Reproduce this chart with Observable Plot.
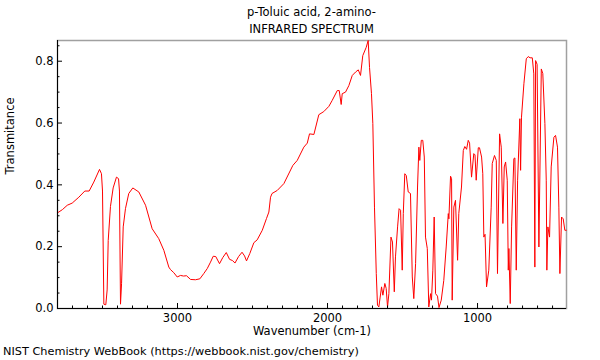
<!DOCTYPE html>
<html><head><meta charset="utf-8">
<script src="https://cdn.jsdelivr.net/npm/d3@7"></script>
<script src="https://cdn.jsdelivr.net/npm/@observablehq/plot@0.6"></script>
<style>
body{margin:0;background:#fff;font-family:"DejaVu Sans",sans-serif;color:#000;}
#title{position:absolute;left:57px;top:4px;width:509px;text-align:center;font-size:11.5px;line-height:17px;}
#chart{position:absolute;left:0;top:38px;}
#caption{position:absolute;left:3px;top:343px;font-size:11.3px;line-height:17px;white-space:nowrap;}
</style></head><body>
<div id="title">p-Toluic acid, 2-amino-<br>INFRARED SPECTRUM</div>
<div id="chart"></div>
<div id="caption">NIST Chemistry WebBook (https://webbook.nist.gov/chemistry)</div>
<script>
const wavenumber = [3798,3767,3735,3702,3658,3618,3589,3558,3520,3507,3500,3491,3478,3469,3462,3447,3429,3407,3393,3387,3380,3373,3362,3347,3325,3298,3258,3213,3169,3125,3091,3058,3047,3025,3002,2980,2960,2940,2913,2880,2851,2825,2802,2780,2762,2745,2720,2698,2675,2653,2633,2617,2593,2570,2553,2540,2518,2491,2469,2435,2407,2391,2380,2370,2335,2291,2231,2202,2158,2135,2120,2091,2058,2025,1991,1969,1935,1922,1909,1902,1880,1858,1835,1813,1795,1780,1765,1742,1729,1720,1707,1698,1687,1675,1667,1658,1649,1640,1631,1618,1609,1600,1591,1577,1567,1555,1547,1533,1523,1513,1502,1495,1485,1475,1462,1447,1435,1425,1413,1400,1391,1385,1375,1365,1355,1347,1335,1325,1313,1307,1298,1289,1280,1267,1257,1242,1225,1209,1195,1191,1180,1173,1169,1158,1147,1133,1125,1107,1095,1085,1073,1062,1053,1040,1025,1017,1009,995,987,973,965,958,950,940,925,909,902,887,875,867,853,842,831,822,813,802,795,791,782,773,758,751,742,733,718,713,707,691,675,662,650,635,625,618,613,603,591,575,565,551,542,538,531,520,509,491,480,467,458,451,440,429,418,409];
const transmittance = [0.31,0.32,0.334,0.341,0.36,0.38,0.38,0.409,0.45,0.436,0.38,0.014,0.012,0.06,0.22,0.33,0.39,0.425,0.42,0.38,0.014,0.08,0.264,0.323,0.372,0.39,0.377,0.334,0.258,0.226,0.188,0.134,0.126,0.116,0.102,0.107,0.105,0.106,0.094,0.093,0.096,0.113,0.129,0.15,0.169,0.168,0.145,0.165,0.181,0.159,0.155,0.147,0.168,0.182,0.17,0.154,0.178,0.213,0.222,0.253,0.291,0.312,0.36,0.372,0.382,0.404,0.463,0.479,0.522,0.535,0.565,0.563,0.627,0.637,0.654,0.673,0.705,0.705,0.66,0.695,0.70,0.721,0.754,0.765,0.772,0.754,0.818,0.845,0.867,0.78,0.695,0.598,0.328,0.113,0.011,0.005,0.037,0.07,0.043,0.081,0.065,0.005,0.048,0.231,0.215,0.054,0.167,0.264,0.323,0.318,0.124,0.307,0.436,0.43,0.377,0.372,0.102,0.032,0.145,0.393,0.522,0.479,0.544,0.544,0.49,0.231,0.194,0.005,0.048,0.027,0.124,0.296,0.048,0.04,0.003,0.027,0.091,0.199,0.307,0.29,0.428,0.42,0.027,0.328,0.35,0.156,0.307,0.393,0.511,0.524,0.515,0.544,0.535,0.425,0.501,0.497,0.415,0.52,0.52,0.49,0.436,0.231,0.24,0.07,0.124,0.328,0.469,0.495,0.479,0.113,0.565,0.522,0.275,0.458,0.474,0.415,0.124,0.194,0.016,0.264,0.485,0.487,0.124,0.415,0.614,0.447,0.619,0.727,0.808,0.815,0.811,0.811,0.759,0.134,0.802,0.79,0.199,0.775,0.76,0.598,0.415,0.124,0.264,0.231,0.458,0.554,0.56,0.522,0.328,0.113,0.296,0.29,0.253,0.253];

const xMajorTicks = [3000, 2000, 1000];
const xMinorTicks = [3700,3600,3500,3400,3300,3200,3100,2900,2800,2700,2600,2500,2400,2300,2200,2100,1900,1800,1700,1600,1500,1400,1300,1200,1100,900,800,700,600,500];
const yMajorTicks = [0, 0.2, 0.4, 0.6, 0.8];
const yMinorTicks = [0.05,0.1,0.15,0.25,0.3,0.35,0.45,0.5,0.55,0.65,0.7,0.75,0.85];
const xDomain = [3800, 407];
const yDomain = [0, 0.867];

const spectrum = wavenumber.map((w, i) => ({w, t: transmittance[i]}));

const chart = Plot.plot({
  width: 600, height: 302,
  marginLeft: 57, marginRight: 34, marginTop: 2, marginBottom: 32,
  style: {fontFamily: "DejaVu Sans", fontSize: "11.5px", color: "#000", background: "#fff", overflow: "visible"},
  x: {domain: xDomain},
  y: {domain: yDomain},
  marks: [
    Plot.frame({stroke: "#a0a0a0", strokeWidth: 1.5}),
    Plot.line(spectrum, {x: "w", y: "t", stroke: "#ff0000", strokeWidth: 1}),
    Plot.ruleX([xDomain[0]], {stroke: "#000", strokeWidth: 1}),
    Plot.ruleY([0], {stroke: "#000", strokeWidth: 1}),
    Plot.ruleX(xMajorTicks, {y1: 0, y2: 0, insetBottom: 5, stroke: "#000"}),
    Plot.ruleX(xMinorTicks, {y1: 0, y2: 0, insetBottom: 2.5, stroke: "#000"}),
    Plot.ruleY(yMajorTicks, {x1: xDomain[0], x2: xDomain[0], insetLeft: 5, stroke: "#000"}),
    Plot.ruleY(yMinorTicks, {x1: xDomain[0], x2: xDomain[0], insetLeft: 2.5, stroke: "#000"}),
    Plot.axisX({ticks: xMajorTicks, tickSize: 0, tickPadding: 5, tickFormat: d => String(d), label: null}),
    Plot.axisY({ticks: yMajorTicks, tickSize: 0, tickPadding: 4, tickFormat: d3.format(".1f"), label: null}),
    Plot.text(["Wavenumber (cm-1)"], {frameAnchor: "bottom", dy: 26, fontSize: 11.5}),
    Plot.text(["Transmitance"], {frameAnchor: "left", rotate: -90, dx: -47, fontSize: 11.5})
  ]
});
document.getElementById("chart").appendChild(chart);
</script>
</body></html>
